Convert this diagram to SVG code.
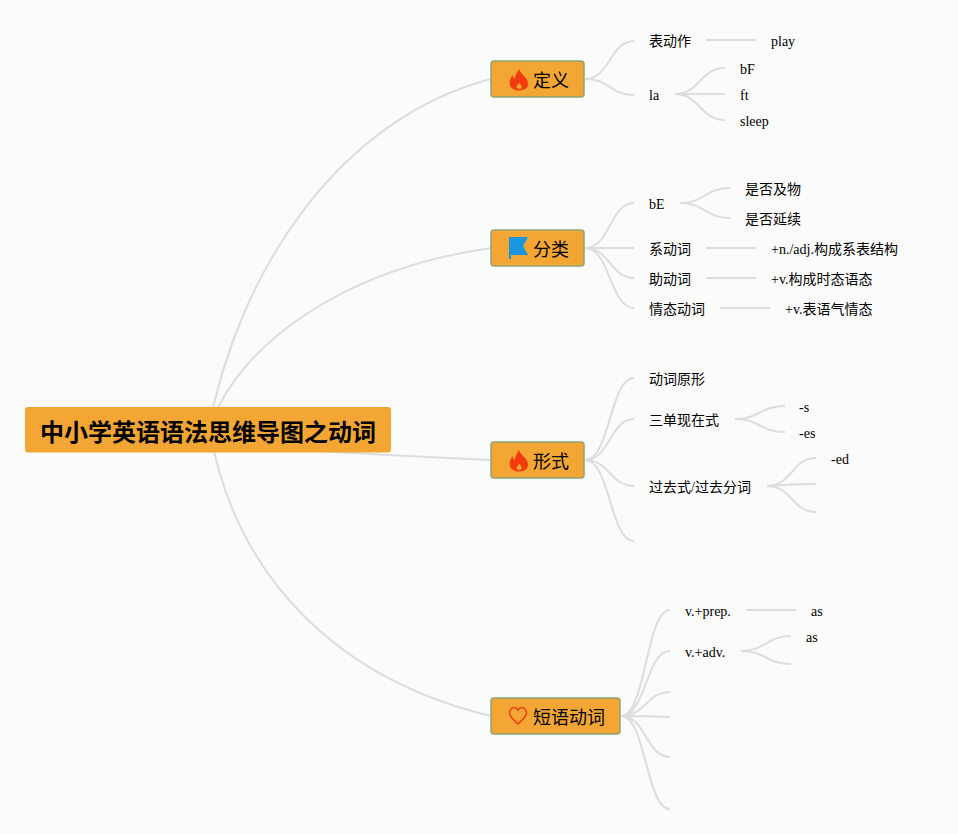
<svg xmlns="http://www.w3.org/2000/svg" width="958" height="834" viewBox="0 0 958 834">
<style>
text{font-family:"Liberation Serif","Noto Sans CJK SC",serif;font-size:14px;fill:#000}
.c path{fill:none;stroke:#ddd;stroke-width:2}
.m rect{fill:#f4a634;stroke:#8fa572;stroke-width:1.5}
.m text{font-size:18px;font-family:"Liberation Sans","Noto Sans CJK SC",sans-serif}
</style>
<defs>
<path id="flame" fill="#f23c0e" d="M10 0C10.500 4 15 6.500 17.500 10.500C19.500 14 19.500 17 17.500 19.500C16 21 13 22 9.500 22C6 22 2.500 20.500 1 17C0 13.500 1 10 3.500 6.500C4 8.500 4.500 9.500 5.500 10.500C6 7 8.500 4 10 0ZM10.500 14C9.500 15.500 7.500 17 7.500 18.500C7.500 19.800 8.500 20.500 10 20.500C11.500 20.500 12.700 19.800 12.700 18.500C12.700 17 11 15.500 10.500 14Z"/>
</defs>
<rect width="958" height="834" fill="#fbfbfb"/>
<g id="connectors" class="c">
<path d="M208 432C238 270 340 118 491 79"/>
<path d="M208 432C238 340 350 268 491 248"/>
<path d="M300 450Q400 456 491 460"/>
<path d="M210 432C237 580 340 680 491 716"/>
<path d="M585 79C610 79 610 41 634 41"/><path d="M585 79C610 79 610 95 634 95"/>
<path d="M706 40H756"/>
<path d="M675 94C700 94 700 68 725 68"/><path d="M675 94H725"/><path d="M675 94C700 94 700 120 725 120"/>
<path d="M585 248C610 248 610 203 634 203"/><path d="M585 248H634"/><path d="M585 248C610 248 610 278 634 278"/><path d="M585 248C610 248 610 308 634 308"/>
<path d="M680 203C705 203 705 188 730 188"/><path d="M680 203C705 203 705 218 730 218"/>
<path d="M706 248H756"/><path d="M706 278H756"/><path d="M720 308H770"/>
<path d="M585 460C610 460 610 378 634 378"/><path d="M585 460C610 460 610 419 634 419"/><path d="M585 460C610 460 610 486 634 486"/><path d="M585 460C610 460 610 541 634 541"/>
<path d="M735 419C760 419 760 406 785 406"/><path d="M735 419C760 419 760 432 785 432"/>
<path d="M767 486C792 486 792 458 816 458"/><path d="M767 486Q792 484 816 484"/><path d="M767 486C792 486 792 512 816 512"/>
<path d="M621 716C646 716 646 610 670 610"/><path d="M621 716C646 716 646 651 670 651"/><path d="M621 716C646 716 646 692 670 692"/><path d="M621 716Q646 716 670 717"/><path d="M621 716C646 716 646 757 670 757"/><path d="M621 716C646 716 646 809 670 809"/>
<path d="M746 610H796"/>
<path d="M741 651C766 651 766 636 791 636"/><path d="M741 651C766 651 766 664 791 664"/>
</g>
<g id="root"><rect x="25" y="407" width="366" height="45.500" rx="3" fill="#f4a634"/><text x="40" y="441" style="font-size:24px;font-weight:bold;font-family:'Liberation Sans','Noto Sans CJK SC',sans-serif">中小学英语语法思维导图之动词</text></g>
<g id="n-dingyi" class="m"><rect x="491" y="61" width="93" height="36" rx="3"/><use href="#flame" x="509" y="68.500"/><text x="533" y="87">定义</text></g>
<g id="n-fenlei" class="m"><rect x="491" y="230" width="93" height="36" rx="3"/><path d="M509 237H528L523 246L528 255H511V259H509Z" fill="#1a97de"/><text x="533" y="256">分类</text></g>
<g id="n-xingshi" class="m"><rect x="491" y="442" width="93" height="36" rx="3"/><use href="#flame" x="509" y="449.500"/><text x="533" y="468">形式</text></g>
<g id="n-duanyu" class="m"><rect x="491" y="698" width="129" height="36" rx="3"/><path d="M518 724C514 720 509.500 717 509.500 713C509.500 710 512 707.500 514 707.500C516 707.500 517 708.500 518 710C519 708.500 520 707.500 522 707.500C524 707.500 526.500 710 526.500 713C526.500 717 522 720 518 724Z" fill="none" stroke="#e23f12" stroke-width="1.500"/><text x="533" y="724">短语动词</text></g>
<g id="t1"><text x="649" y="46">表动作</text></g>
<g id="t2"><text x="771" y="46">play</text></g>
<g id="t3"><text x="649" y="100">la</text></g>
<g id="t4"><text x="740" y="74">bF</text></g>
<g id="t5"><text x="740" y="100">ft</text></g>
<g id="t6"><text x="740" y="126">sleep</text></g>
<g id="t7"><text x="649" y="209">bE</text></g>
<g id="t8"><text x="745" y="194">是否及物</text></g>
<g id="t9"><text x="745" y="224">是否延续</text></g>
<g id="t10"><text x="649" y="254">系动词</text></g>
<g id="t11"><text x="771" y="254">+n./adj.构成系表结构</text></g>
<g id="t12"><text x="649" y="284">助动词</text></g>
<g id="t13"><text x="771" y="284">+v.构成时态语态</text></g>
<g id="t14"><text x="649" y="314">情态动词</text></g>
<g id="t15"><text x="785" y="314">+v.表语气情态</text></g>
<g id="t16"><text x="649" y="384">动词原形</text></g>
<g id="t17"><text x="649" y="425">三单现在式</text></g>
<g id="t18"><text x="799" y="412">-s</text></g>
<g id="t19"><text x="799" y="438">-es</text></g>
<g id="t20"><text x="649" y="492">过去式/过去分词</text></g>
<g id="t21"><text x="831" y="464">-ed</text></g>
<g id="t22"><text x="685" y="616">v.+prep.</text></g>
<g id="t23"><text x="811" y="616">as</text></g>
<g id="t24"><text x="685" y="657">v.+adv.</text></g>
<g id="t25"><text x="806" y="642">as</text></g>
</svg>
